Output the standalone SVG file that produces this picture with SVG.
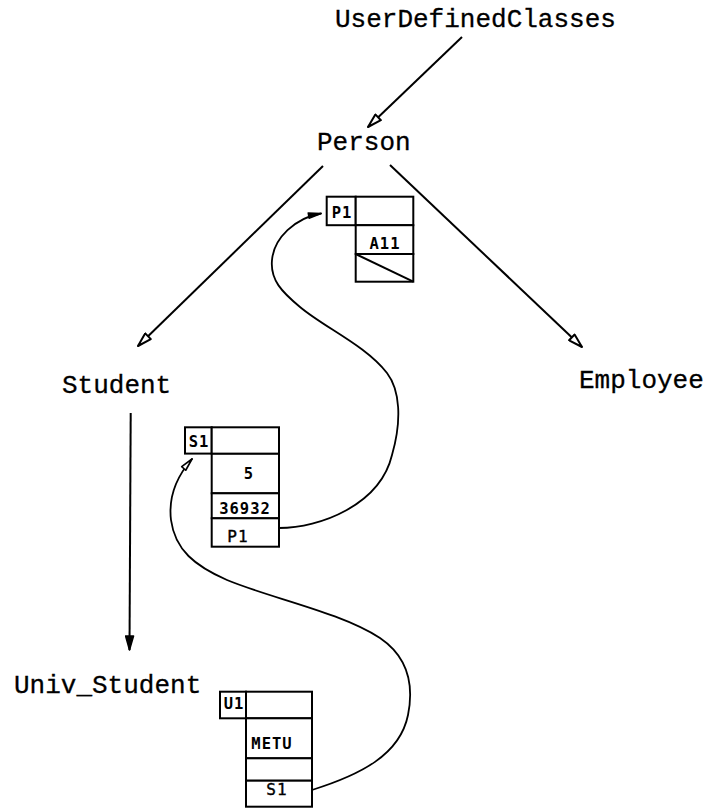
<svg xmlns="http://www.w3.org/2000/svg" width="710" height="810" viewBox="0 0 710 810">
  <defs>
    <style>
      .cls { font-family: "Liberation Mono", "DejaVu Sans Mono", monospace; font-size: 26px; fill: #000; stroke: #000; stroke-width: 0.3; }
      .cell { fill: #fff; stroke: #000; stroke-width: 2; }
      .val { font-family: "DejaVu Sans Mono", "Liberation Mono", monospace; font-size: 15.5px; font-weight: bold; fill: #000; letter-spacing: 1px; }
      .ref { font-family: "DejaVu Sans Mono", "Liberation Mono", monospace; font-size: 16px; fill: #000; stroke: #000; stroke-width: 0.4; letter-spacing: 1px; }
      .isa { fill: none; stroke: #000; stroke-width: 2; }
      .ptr { fill: none; stroke: #000; stroke-width: 1.8; stroke-linecap: round; stroke-linejoin: round; }
    </style>
    <marker id="open" viewBox="0 0 16 10" refX="15" refY="5" markerWidth="16" markerHeight="10" orient="auto" markerUnits="userSpaceOnUse">
      <path d="M1,1 L15,5 L1,9 Z" fill="#fff" stroke="#000" stroke-width="2" stroke-linejoin="round"/>
    </marker>
    <marker id="solid" viewBox="0 0 16 10" refX="15" refY="5" markerWidth="16" markerHeight="10" orient="auto" markerUnits="userSpaceOnUse">
      <path d="M1,1 L15,5 L1,9 Z" fill="#000" stroke="#000" stroke-width="1.5" stroke-linejoin="round"/>
    </marker>
    <marker id="ptrOpen" viewBox="0 0 16 10" refX="15" refY="5" markerWidth="16" markerHeight="9" orient="auto" markerUnits="userSpaceOnUse">
      <path d="M1,2 L15,5 L1,8 Z" fill="#fff" stroke="#000" stroke-width="1.8" stroke-linejoin="round"/>
    </marker>
    <marker id="ptrSolid" viewBox="0 0 16 10" refX="15" refY="5" markerWidth="16" markerHeight="9" orient="auto" markerUnits="userSpaceOnUse">
      <path d="M1,2 L15,5 L1,8 Z" fill="#000" stroke="#000" stroke-width="1.5" stroke-linejoin="round"/>
    </marker>
  </defs>

  <rect width="710" height="810" fill="#fff"/>

  <!-- class hierarchy -->
  <g id="UserDefinedClasses"><text class="cls" x="335" y="27">UserDefinedClasses</text></g>
  <g id="Person"><text class="cls" x="317" y="150">Person</text></g>
  <g id="Student"><text class="cls" x="62" y="393">Student</text></g>
  <g id="Employee"><text class="cls" x="579" y="388">Employee</text></g>
  <g id="Univ_Student"><text class="cls" x="14" y="693">Univ_Student</text></g>

  <!-- object P1 -->
  <g id="obj-P1">
    <rect class="cell" x="326.7" y="196.7" width="29" height="28.5"/>
    <rect class="cell" x="355.7" y="196.7" width="57.6" height="28.5"/>
    <rect class="cell" x="355.7" y="225.2" width="57.6" height="28.8"/>
    <rect class="cell" x="355.7" y="254" width="57.6" height="27.7"/>
    <line x1="355.7" y1="254" x2="413.3" y2="281.7" stroke="#000" stroke-width="2"/>
    <text class="val" x="342" y="217.5" text-anchor="middle">P1</text>
    <text class="val" x="385" y="249" text-anchor="middle">A11</text>
  </g>

  <!-- object S1 -->
  <g id="obj-S1">
    <rect class="cell" x="185" y="427.3" width="26.7" height="26.3"/>
    <rect class="cell" x="211.7" y="427.3" width="67.3" height="26.5"/>
    <rect class="cell" x="211.7" y="453.8" width="67.3" height="39.5"/>
    <rect class="cell" x="211.7" y="493.3" width="67.3" height="25"/>
    <rect class="cell" x="211.7" y="518.3" width="67.3" height="28.4"/>
    <text class="val" x="199" y="447" text-anchor="middle">S1</text>
    <text class="val" x="249" y="478.5" text-anchor="middle">5</text>
    <text class="val" x="245" y="513.5" text-anchor="middle">36932</text>
    <text class="ref" x="238" y="542" text-anchor="middle">P1</text>
  </g>

  <!-- object U1 -->
  <g id="obj-U1">
    <rect class="cell" x="220" y="691.7" width="26" height="26.6"/>
    <rect class="cell" x="246" y="691.7" width="66" height="26.6"/>
    <rect class="cell" x="246" y="718.3" width="66" height="40"/>
    <rect class="cell" x="246" y="758.3" width="66" height="22.4"/>
    <rect class="cell" x="246" y="780.7" width="66" height="26"/>
    <text class="val" x="234" y="709" text-anchor="middle">U1</text>
    <text class="val" x="272" y="748.5" text-anchor="middle">METU</text>
    <text class="ref" x="277" y="795" text-anchor="middle">S1</text>
  </g>

  <!-- connectors -->
  <g id="connectors">
    <line class="isa" x1="462" y1="37" x2="368" y2="127" marker-end="url(#open)"/>
    <line class="isa" x1="323" y1="166" x2="138" y2="346" marker-end="url(#open)"/>
    <line class="isa" x1="390" y1="165" x2="582" y2="347" marker-end="url(#open)"/>
    <line class="isa" x1="130.7" y1="413" x2="129.5" y2="650" marker-end="url(#solid)"/>
    <!-- S1.P1 reference back to object P1 -->
    <path class="ptr" d="M279,528 C320,528 380,505 392,455 C402,420 400,390 387,373 C365,345 325,328 300,307 C282,292 270,280 272,260 C274,238 295,218 321,213.5" marker-end="url(#ptrSolid)"/>
    <!-- U1.S1 reference back to object S1 -->
    <path class="ptr" d="M312,790 C360,775 400,755 408,715 C415,680 405,655 380,638 C340,612 270,598 227,580 C195,566 175,550 171,520 C168,495 178,475 192,459" marker-end="url(#ptrOpen)"/>
  </g>
</svg>
